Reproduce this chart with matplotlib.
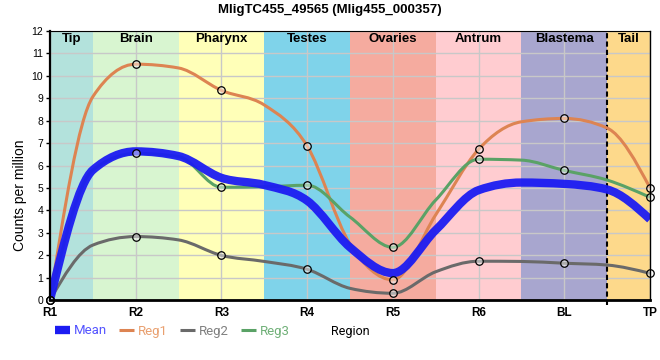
import numpy as np
import matplotlib
matplotlib.use("Agg")
import matplotlib.pyplot as plt
from matplotlib.path import Path
from matplotlib.patches import PathPatch
from matplotlib.lines import Line2D

plt.rcParams['font.family'] = ['Liberation Sans', 'DejaVu Sans']

regions = ['R1', 'R2', 'R3', 'R4', 'R5', 'R6', 'BL', 'TP']
bands = ['Tip', 'Brain', 'Pharynx', 'Testes', 'Ovaries', 'Antrum', 'Blastema', 'Tail']
band_colors = ['#b3e2dc', '#d8f5d0', '#ffffb8', '#7fd3ea', '#f5ab9f', '#ffccd0', '#a8a6cf', '#fdd98b']

# values at the regions (markers) and at the band edges between them
mean_vals = [0, 6.63, 5.45, 4.43, 1.2, 4.9, 5.18, 3.6]
mean_edges = [5.8, 6.42, 5.13, 2.35, 3.12, 5.24, 4.93]
reg1_vals = [0, 10.52, 9.35, 6.87, 0.9, 6.72, 8.1, 5.0]
reg1_edges = [9.07, 10.35, 8.7, 2.5, 3.8, 7.95, 7.67]
reg2_vals = [0, 2.83, 1.99, 1.37, 0.3, 1.73, 1.64, 1.19]
reg2_edges = [2.45, 2.68, 1.72, 0.52, 1.26, 1.72, 1.56]
reg3_vals = [0, 6.54, 5.03, 5.12, 2.35, 6.28, 5.78, 4.58]
reg3_edges = [5.8, 6.4, 5.05, 3.7, 4.46, 6.24, 5.35]


def merge(vals, edges):
    out = []
    for i, v in enumerate(vals):
        out.append(v)
        if i < len(edges):
            out.append(edges[i])
    return np.array(out, dtype=float)


def monotone_path(x, y):
    # monotone cubic (like d3 curveMonotoneX) as bezier segments
    n = len(x)
    h = np.diff(x)
    s = np.diff(y) / h
    t = np.zeros(n)
    for i in range(1, n - 1):
        s0, s1 = s[i - 1], s[i]
        p = (s0 * h[i] + s1 * h[i - 1]) / (h[i - 1] + h[i])
        t[i] = (np.sign(s0) + np.sign(s1)) * min(abs(s0), abs(s1), 0.5 * abs(p))
    t[0] = (3 * s[0] - t[1]) / 2
    t[-1] = (3 * s[-1] - t[-2]) / 2
    verts = [(x[0], y[0])]
    codes = [Path.MOVETO]
    for i in range(n - 1):
        d = h[i] / 3
        verts += [(x[i] + d, y[i] + t[i] * d), (x[i + 1] - d, y[i + 1] - t[i + 1] * d), (x[i + 1], y[i + 1])]
        codes += [Path.CURVE4] * 3
    return Path(verts, codes)


fig = plt.figure(figsize=(6.6, 3.6), dpi=100)
ax = fig.add_axes([50 / 660, 60 / 360, 600 / 660, 269 / 360])
ax.set_xlim(0, 7)
ax.set_ylim(0, 12)

# tissue bands
edges = [0, 0.5, 1.5, 2.5, 3.5, 4.5, 5.5, 6.5, 7]
for i, name in enumerate(bands):
    ax.axvspan(edges[i], edges[i + 1], color=band_colors[i], lw=0, zorder=0)
    ax.text((edges[i] + edges[i + 1]) / 2, 0.97, name, transform=ax.get_xaxis_transform(),
            ha='center', va='center', fontsize=9.5, fontweight='bold', zorder=7)

ax.grid(True, color='#c8c8c8', lw=1)
ax.axvline(6.5, ymin=-0.02, ymax=1, color='black', lw=1.5, ls=(0, (2.5, 1.5)),
           clip_on=False, zorder=2.5)

xs = np.arange(0, 7.01, 0.5)
series = [
    ('Reg1', reg1_vals, reg1_edges, '#dd8452', 2.2),
    ('Reg2', reg2_vals, reg2_edges, '#6a6a6a', 2.2),
    ('Reg3', reg3_vals, reg3_edges, '#5aa266', 2.2),
]
for name, vals, edg, col, lw in series:
    ax.add_patch(PathPatch(monotone_path(xs, merge(vals, edg)), fill=False,
                           edgecolor=col, lw=lw, zorder=3))
ax.add_patch(PathPatch(monotone_path(xs, merge(mean_vals, mean_edges)), fill=False,
                       edgecolor='#1c1cf2', alpha=0.95, lw=6, zorder=4))

for name, vals, edg, col, lw in series:
    ax.plot(range(len(regions)), vals, 'o', ms=5.4, mfc=(1, 1, 1, 0.45), mec='black',
            mew=0.9, zorder=6, clip_on=False)

ax.set_xticks(range(len(regions)))
ax.set_xticklabels(regions, fontweight='bold', fontsize=8.5)
ax.set_yticks(range(0, 13))
ax.tick_params(axis='x', length=0, pad=5)
ax.tick_params(axis='y', length=3, width=1, pad=2, labelsize=7.5)

for side, w in [('left', 1.6), ('bottom', 2.0), ('top', 0.8), ('right', 1.0)]:
    ax.spines[side].set_linewidth(w)
    ax.spines[side].set_color('black')
    ax.spines[side].set_zorder(8)

fig.text(330 / 660, 350 / 360, 'MligTC455_49565 (Mlig455_000357)', ha='center', va='center',
         fontsize=9.5, fontweight='bold')
fig.text(20 / 660, 165 / 360, 'Counts per million', rotation=90, ha='center', va='center',
         fontsize=10)
fig.text(350 / 660, 28 / 360, 'Region', ha='center', va='center', fontsize=9,
         family=['Roboto', 'DejaVu Sans'])

handles = [
    Line2D([], [], color='#1c1cf2', lw=6, solid_capstyle='butt'),
    Line2D([], [], color='#dd8452', lw=2.2, solid_capstyle='butt'),
    Line2D([], [], color='#6a6a6a', lw=2.2, solid_capstyle='butt'),
    Line2D([], [], color='#5aa266', lw=2.2, solid_capstyle='butt'),
]
fig.legend(handles, ['Mean', 'Reg1', 'Reg2', 'Reg3'], loc='center left',
           bbox_to_anchor=(55 / 660, 29 / 360), ncol=4, frameon=False,
           handlelength=1.15, handletextpad=0.3, columnspacing=0.9,
           borderpad=0, borderaxespad=0,
           prop={'family': ['Roboto', 'DejaVu Sans'], 'size': 9.5},
           labelcolor=['#5555ff', '#e9a070', '#808080', '#70b078'])

fig.savefig('out.png', dpi=100)
